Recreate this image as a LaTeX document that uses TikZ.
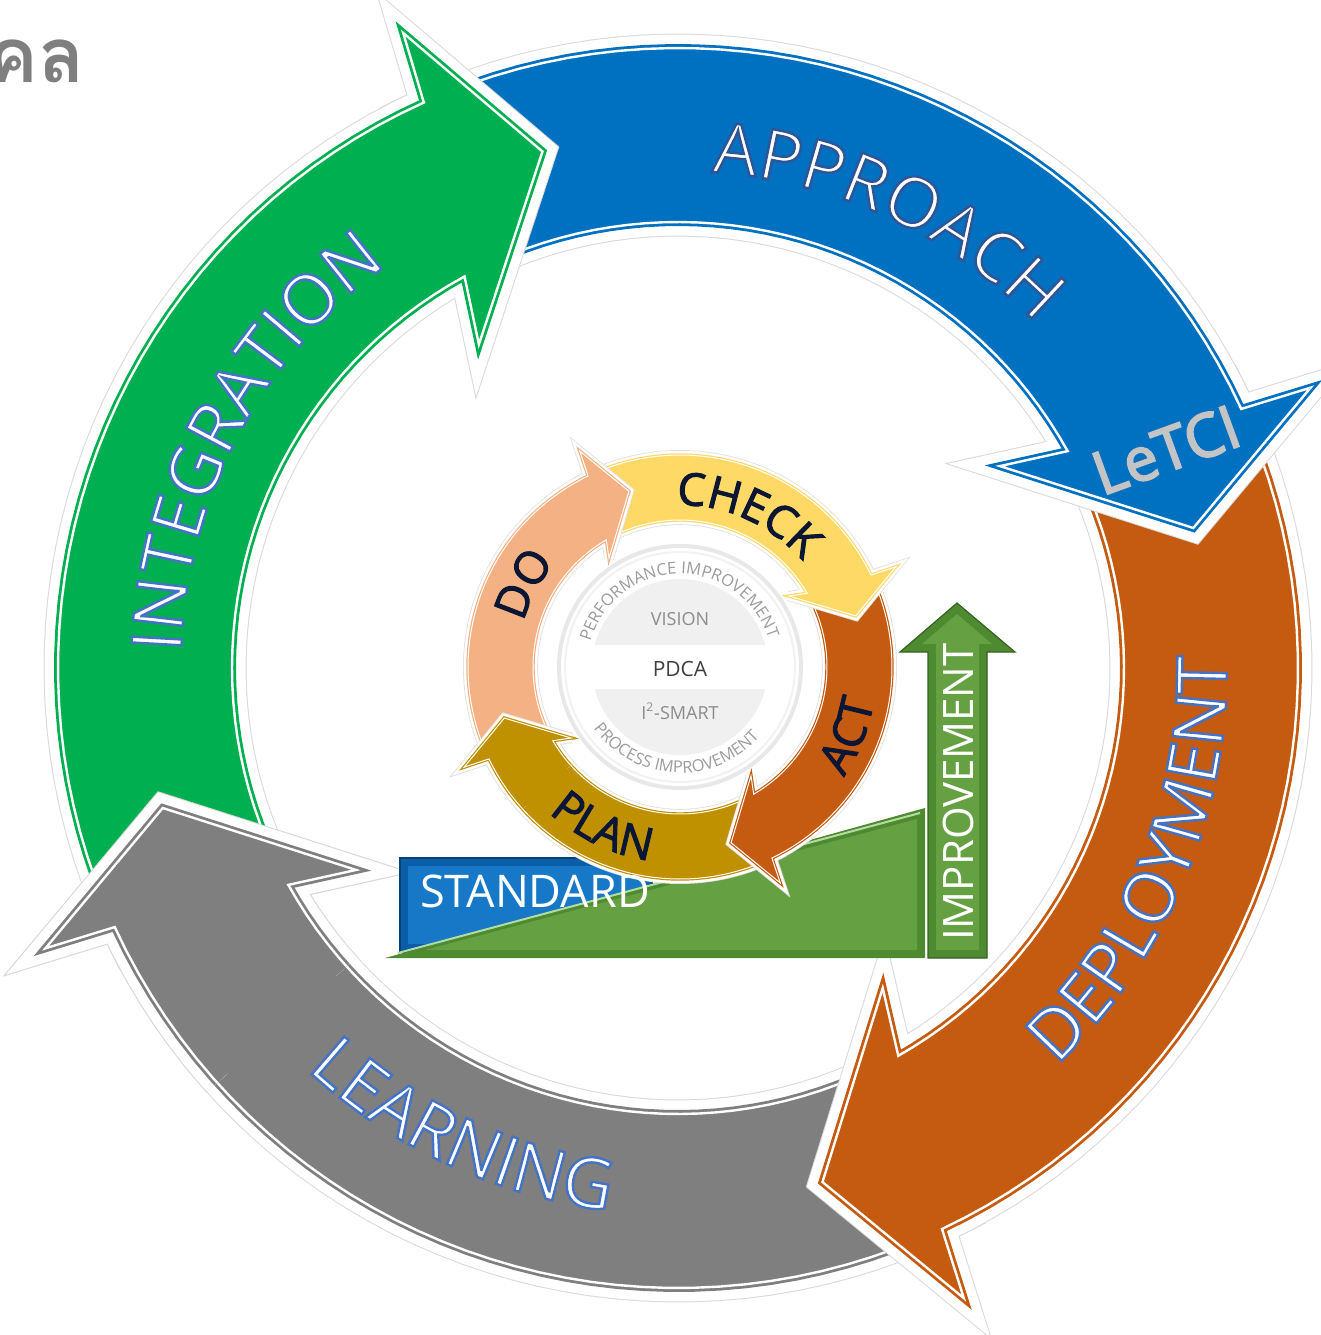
\documentclass[tikz,border=0pt]{standalone}
\usepackage{fontspec}
\setmainfont{Open Sans}
\newfontfamily\thaifont[Script=Thai]{Loma}
\usetikzlibrary{decorations.text}
\definecolor{cgreen}{HTML}{00B050}
\definecolor{cblue}{HTML}{0070C0}
\definecolor{corange}{HTML}{C55A11}
\definecolor{cgray}{HTML}{7F7F7F}
\definecolor{cdo}{HTML}{F4B183}
\definecolor{ccheck}{HTML}{FFD966}
\definecolor{cact}{HTML}{C55A11}
\definecolor{cplan}{HTML}{BF9000}
\definecolor{navy}{HTML}{0A1633}
\definecolor{thaigray}{HTML}{7F7F7F}
\definecolor{innergray}{HTML}{9C9C9C}
\definecolor{stdblue}{HTML}{0C5DA8}
\definecolor{stdblueB}{HTML}{1778C8}
\definecolor{gdark}{HTML}{4E8A30}
\definecolor{gmid}{HTML}{65A043}
\definecolor{glight}{HTML}{B5DCA0}
\definecolor{letci}{HTML}{C4C4C4}

\tikzset{
  mainglow/.style={draw=black!15, line width=14.5pt, miter limit=4},
  mainborder/.style={draw=white, line width=13.5pt, miter limit=4},
  mainedge/.style={draw=#1, double=white, double distance=1.2pt, line width=1.4pt},
  pglow/.style={draw=black!12, line width=5pt, miter limit=4},
  pborder/.style={draw=white, line width=4.2pt, miter limit=4},
  pedge/.style={draw=#1, double=white, double distance=0.5pt, line width=0.6pt},
}

% outlined text (fill = current colour, stroke = given colour)
\newcommand\outlineA{\special{pdf:literal direct 2 Tr 1.2 w 0.184 0.333 0.592 RG}}
\newcommand\outlineB{\special{pdf:literal direct 2 Tr 1.2 w 0.267 0.447 0.769 RG}}
\newcommand\outlineC{\special{pdf:literal direct 2 Tr 0.9 w 0.40 0.40 0.40 RG}}
\newcommand\outlineN{\special{pdf:literal direct 2 Tr 0.5 w 0.04 0.09 0.20 RG}}

\newcommand\defarrow[2]{%
  \pgfmathsetmacro\ta{#1}%
  \pgfmathsetmacro\tT{#2}%
  \pgfmathsetmacro\aon{#2-9.5}%
  \pgfmathsetmacro\aob{#2-8.7}%
  \pgfmathsetmacro\aib{#2-16.9}%
  \pgfmathsetmacro\ain{#2-13.9}}
\newcommand\arrowpath{({\ta}:{\rout}) -- plot[domain=\ta:\aon, samples=40] ({\x}:{\rout}) -- ({\aob}:{\rob}) -- ({\tT}:{\rtip}) -- ({\aib}:{\rib}) -- ({\ain}:{\rin}) -- plot[domain=\ain:\ta, samples=40] ({\x}:{\rin}) -- cycle}
\newcommand\drawarrow[4]{%
  \defarrow{#1}{#2}%
  \draw[#4glow] \arrowpath;
  \draw[#4border] \arrowpath;
  \fill[#3] \arrowpath;
  \draw[#4edge=#3] \arrowpath;}

\newcommand\mainlabfont{\fontsize{35pt}{40pt}\selectfont}
\newcommand\pdcalabfont{\fontsize{22.5pt}{26pt}\selectfont}
\newcommand\innerfont{\fontsize{8.2pt}{10pt}\selectfont}

% text along an arc: text, centre angle, radius, direction, half span, format, colour
\newcommand\arcplain[7]{%
  \pgfmathsetmacro\asA{#2-(#4)*(#5)}%
  \pgfmathsetmacro\asB{#2+(#4)*(#5)}%
  \path[decorate, decoration={text along path, text={|#6|#1}, text align=center, text color=#7}] plot[domain=\asA:\asB, samples=90] ({\x}:{#3});}

\begin{document}
\begin{tikzpicture}[x=0.5pt,y=-0.5pt]
\useasboundingbox (0,0) rectangle (1321,1335);
\fill[white] (0,0) rectangle (1321,1335);

% Thai heading fragment (cut at the left edge, as in the source)
\node[anchor=base east, inner sep=0, text=thaigray, font=\thaifont\bfseries\fontsize{38pt}{44pt}\selectfont] (thai) at (85,82) {คล};

% ===== main ring =====
\begin{scope}[shift={(678,668)}]
  \def\rin{446}\def\rout{620}\def\rob{692}\def\rtip{534}\def\rib{380}
  \drawarrow{62.3}{164.8}{cgray}{main}
  \drawarrow{-27.2}{74.3}{corange}{main}
  \drawarrow{243.3}{344.8}{cblue}{main}
  \drawarrow{152.8}{255.3}{cgreen}{main}
  \begin{scope}
    \clip (0,0) -- (138:950) -- (157:950) -- (176:950) -- cycle;
    \drawarrow{62.3}{164.8}{cgray}{main}
  \end{scope}
  \arcplain{APPROACH}{295}{497}{1}{50}{\mainlabfont\outlineA}{white}
  \arcplain{INTEGRATION}{208}{497}{1}{50}{\mainlabfont\outlineB}{white}
  \arcplain{DEPLOYMENT}{22.6}{549}{-1}{50}{\mainlabfont\outlineB}{white}
  \arcplain{LEARNING}{115}{547}{-1}{50}{\mainlabfont\outlineB}{white}
\end{scope}

% LeTCI on the blue arrow head
\node[rotate=20, text=letci, font=\fontsize{30pt}{34pt}\selectfont\outlineC, inner sep=0] (letci) at (1166,450) {LeTCI};

% ===== standard / improvement graphic =====
\fill[stdblue] (400,858) rectangle (652,952);
\fill[stdblueB] (408,866) rectangle (644,944);
\draw[stdblue!70!black, line width=0.8pt] (400,858) rectangle (652,952);
\fill[gdark] (385,958) -- (925,808) -- (925,958) -- cycle;
\fill[gmid] (425,950) -- (917,819) -- (917,950) -- cycle;
\draw[glight, line width=1pt] (398,953) -- (920,813);
\fill[gdark] (928,958) -- (928,652) -- (900,652) -- (957,603) -- (1015,652) -- (987,652) -- (987,958) -- cycle;
\fill[gmid] (936,950) -- (936,644) -- (922,644) -- (957,614) -- (992,644) -- (979,644) -- (979,950) -- cycle;
\draw[gdark!70!black, line width=0.6pt] (928,958) -- (928,652) -- (900,652) -- (957,603) -- (1015,652) -- (987,652) -- (987,958) -- cycle;

% ===== PDCA ring =====
\begin{scope}[shift={(680,667)}]
  \fill[white] (0,0) circle (123);
  \draw[black!9, line width=2pt] (0,0) circle (121);
  \draw[black!5, line width=1pt] (0,0) circle (115);
  \begin{scope}
    \clip (-100,-100) rectangle (100,-23);
    \fill[black!6] (0,0) circle (88);
  \end{scope}
  \begin{scope}
    \clip (-100,22) rectangle (100,100);
    \fill[black!6] (0,0) circle (88);
  \end{scope}
  \node[text=black!45, font=\fontsize{9pt}{11pt}\selectfont] (vision) at (0,-48) {VISION};
  \node[text=black!75, font=\fontsize{10.5pt}{12pt}\selectfont] (pdca) at (0,2) {PDCA};
  \node[text=black!45, font=\fontsize{9pt}{11pt}\selectfont] (smart) at (0,44) {I\textsuperscript{2}-SMART};
  \arcplain{PERFORMANCE IMPROVEMENT}{269}{93}{1}{85}{\innerfont}{innergray}
  \arcplain{PROCESS IMPROVEMENT}{93}{106}{-1}{80}{\innerfont}{innergray}

  \def\rin{147}\def\rout{212}\def\rob{238}\def\rtip{183}\def\rib{130}
  \drawarrow{61.8}{163.8}{cplan}{p}
  \drawarrow{-28.2}{73.8}{cact}{p}
  \drawarrow{241.8}{343.8}{ccheck}{p}
  \drawarrow{151.8}{253.8}{cdo}{p}
  \begin{scope}
    \clip (0,0) -- (138:330) -- (157:330) -- (176:330) -- cycle;
    \drawarrow{61.8}{163.8}{cplan}{p}
  \end{scope}
  \arcplain{CHECK}{294}{162}{1}{60}{\pdcalabfont\outlineN}{navy}
  \arcplain{DO}{208}{163}{1}{60}{\pdcalabfont\outlineN}{navy}
  \arcplain{ACT}{22}{197}{-1}{60}{\pdcalabfont\outlineN}{navy}
  \arcplain{PLAN}{115.5}{196}{-1}{60}{\pdcalabfont\outlineN}{navy}
\end{scope}

\node[text=white, font=\fontsize{22.5pt}{26pt}\selectfont, inner sep=0] (standard) at (535,891) {STANDARD};
\node[rotate=90, text=white, font=\fontsize{21pt}{24pt}\selectfont, inner sep=0] (improvement) at (958,792) {IMPROVEMENT};
\end{tikzpicture}
\end{document}
